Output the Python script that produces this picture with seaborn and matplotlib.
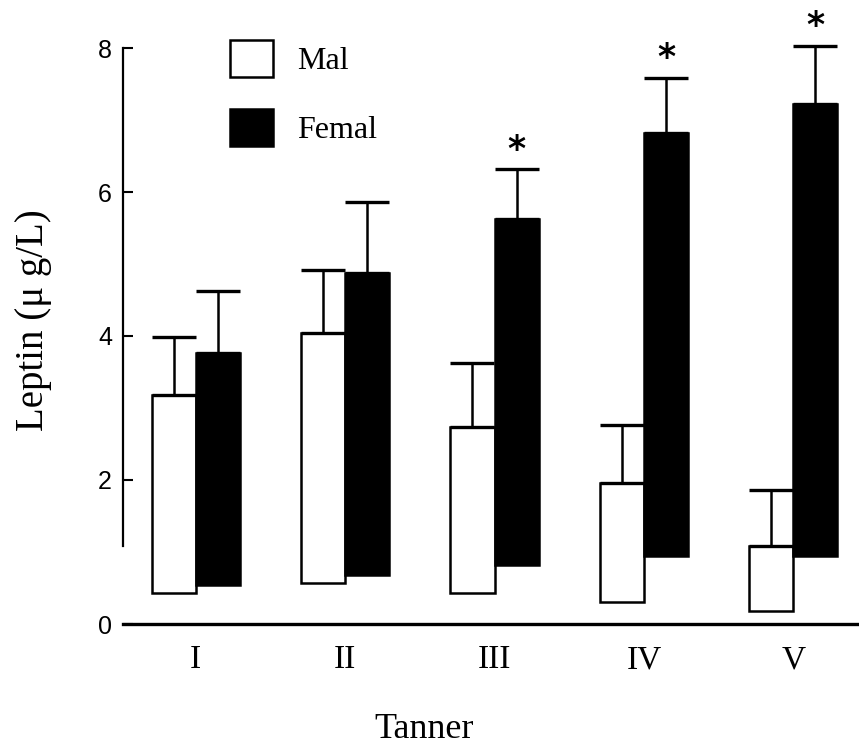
import numpy as np
import pandas as pd
import matplotlib
matplotlib.use("Agg")
import matplotlib.pyplot as plt
import seaborn as sns
from matplotlib.patches import Patch

# ---- data ----
stages = ["I", "II", "III", "IV", "V"]
sexes = ["Mal", "Femal"]
male_top = [3.18, 4.04, 2.74, 1.96, 1.09]
male_bottom = [0.43, 0.57, 0.43, 0.31, 0.18]
male_err = [0.80, 0.88, 0.88, 0.80, 0.77]
female_top = [3.77, 4.88, 5.62, 6.82, 7.22]
female_bottom = [0.54, 0.68, 0.82, 0.95, 0.95]
female_err = [0.86, 0.98, 0.70, 0.77, 0.81]
significant = [False, False, True, True, True]
y_ticks = [0, 2, 4, 6, 8]

rows = []
for i, s in enumerate(stages):
    rows.append(dict(stage=s, sex="Mal", height=male_top[i] - male_bottom[i]))
    rows.append(dict(stage=s, sex="Femal", height=female_top[i] - female_bottom[i]))
df = pd.DataFrame(rows)

sns.set_style("ticks")
plt.rcParams["font.family"] = ["Liberation Serif", "DejaVu Serif"]
for k in ["text.color", "axes.labelcolor", "xtick.color", "ytick.color",
          "axes.edgecolor"]:
    plt.rcParams[k] = "black"

W, H = 859, 747
YMAX = 8.6
PX_PER_UNIT = 72.0
fig = plt.figure(figsize=(W / 100, H / 100), dpi=100)
ax = fig.add_axes([123 / W, 1 - 624 / H, 1 - 123 / W, YMAX * PX_PER_UNIT / H])

palette = {"Mal": "white", "Femal": "black"}
sns.barplot(data=df, x="stage", y="height", hue="sex", hue_order=sexes,
            order=stages, dodge=True, palette=palette, saturation=1,
            width=0.59, edgecolor="black", linewidth=1.8, legend=False,
            errorbar=None, ax=ax)

# floating bars: lift each bar to its bottom value
for cont, bottoms in [(ax.containers[0], male_bottom),
                      (ax.containers[1], female_bottom)]:
    for p, b in zip(cont.patches, bottoms):
        p.set_y(b)

# error bars (upper only) and significance marks
for cont, tops, errs, is_f in [(ax.containers[0], male_top, male_err, False),
                               (ax.containers[1], female_top, female_err, True)]:
    xc = [p.get_x() + p.get_width() / 2 for p in cont.patches]
    ax.errorbar(xc, tops, yerr=[np.zeros(len(tops)), errs], fmt="none",
                ecolor="black", elinewidth=1.8, capsize=15.8, capthick=2.4,
                zorder=1)
    if is_f:
        for x, t, e, sig in zip(xc, tops, errs, significant):
            if sig:
                ax.text(x, t + e + 0.27, "*", ha="center", va="center",
                        fontsize=25, fontweight="bold", family="DejaVu Sans",
                        clip_on=False)

ax.set_xlim(-0.487, 4.44)
ax.set_ylim(0, YMAX)
ax.set_yticks(y_ticks)
ax.set_yticklabels([str(v) for v in y_ticks], family="Liberation Sans",
                   fontsize=18)
ax.tick_params(axis="y", direction="in", length=7.5, width=1.5, pad=8)
ax.tick_params(axis="x", length=0, pad=15, labelsize=24)
ax.set_xlabel("")
ax.set_ylabel("")

for s in ["top", "right"]:
    ax.spines[s].set_visible(False)
ax.spines["left"].set_bounds(1.08, 8)
ax.spines["left"].set_linewidth(1.6)
ax.spines["bottom"].set_linewidth(2.4)

fig.text(43 / W, 1 - 320 / H, "Leptin (μ g/L)", rotation=90,
         rotation_mode="anchor", ha="center", va="baseline", fontsize=28)
fig.text(424 / W, 1 - 738 / H, "Tanner", ha="center", va="baseline",
         fontsize=26)

handles = [Patch(facecolor="white", edgecolor="black", linewidth=1.8),
           Patch(facecolor="black", edgecolor="black", linewidth=1.8)]
fig.legend(handles, sexes, loc="upper left",
           bbox_to_anchor=(230 / W, 1 - 40 / H), frameon=False,
           fontsize=23, handlelength=1.35, handleheight=1.4,
           handletextpad=0.75, labelspacing=1.0, borderpad=0,
           borderaxespad=0)

fig.savefig("out.png", dpi=100)
